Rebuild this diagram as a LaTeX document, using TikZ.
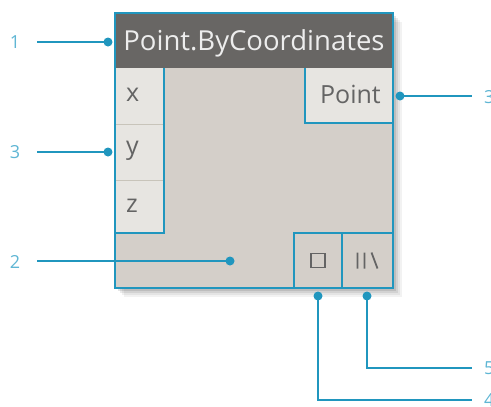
\documentclass[tikz,border=0pt]{standalone}
\usepackage{fontspec}
\setmainfont{Open Sans}
\usetikzlibrary{calc}
\definecolor{calloutblue}{RGB}{32,150,190}
\definecolor{labelblue}{RGB}{95,182,212}
\definecolor{headgray}{RGB}{104,102,100}
\definecolor{bodyfill}{RGB}{212,207,201}
\definecolor{portfill}{RGB}{231,229,225}
\definecolor{porttext}{RGB}{100,100,100}
\definecolor{rowsep}{RGB}{200,196,186}
\tikzset{
  edge/.style={calloutblue, line width=2.6pt},
  callout/.style={calloutblue, line width=2.2pt},
  dot/.style={calloutblue, fill=calloutblue},
  numlabel/.style={text=labelblue, font=\fontsize{18}{18}\selectfont, inner sep=0pt},
  porttxt/.style={text=porttext, font=\fontsize{25}{25}\selectfont, inner sep=0pt},
  box/.style={draw=none, inner sep=0pt, outer sep=0pt}
}
\begin{document}
\begin{tikzpicture}[x=1pt,y=-1pt]
\useasboundingbox (0,0) rectangle (491,407);

% soft drop shadow of the node
\foreach \s/\o in {9/0.05,7/0.06,5/0.08,3/0.10}{
  \fill[black,opacity=\o] (115+\s,13+\s) rectangle (393+\s,288+\s);
}

% node body and header
\node[box, fill=bodyfill, minimum width=278pt, minimum height=275pt, anchor=north west] (body) at (115,13) {};
\node[box, fill=headgray, minimum width=278pt, minimum height=55pt, anchor=north west] (head) at (115,13) {};
\node[text=white!93!black, font=\fontsize{27.5}{27.5}\selectfont, inner sep=0pt] (title) at (254,43) {Point.ByCoordinates};

% input ports
\node[box, fill=portfill, minimum width=49pt, minimum height=56pt, anchor=north west] (px) at (115,68) {};
\node[box, fill=portfill, minimum width=49pt, minimum height=56pt, anchor=north west] (py) at (115,124) {};
\node[box, fill=portfill, minimum width=49pt, minimum height=53pt, anchor=north west] (pz) at (115,180) {};
\draw[rowsep, line width=1pt] (px.south west) -- (px.south east);
\draw[rowsep, line width=1pt] (py.south west) -- (py.south east);
\node[porttxt, anchor=west] at ($(px.west)+(11,-1)$) {x};
\node[porttxt, anchor=west] at ($(py.west)+(11,-1)$) {y};
\node[porttxt, anchor=west] at ($(pz.west)+(11,-1)$) {z};
\draw[edge] (px.north east) -- (pz.south east) -- (pz.south west);

% output port
\node[box, fill=portfill, minimum width=88pt, minimum height=55pt, anchor=north west] (pout) at (305,68) {};
\node[porttxt, anchor=east] at ($(pout.east)+(-12,-1)$) {Point};
\draw[edge] (pout.north west) -- (pout.south west) -- (pout.south east);

% lacing and preview buttons
\node[box, minimum width=48pt, minimum height=55pt, anchor=north west] (prev) at (294,233) {};
\node[box, minimum width=51pt, minimum height=55pt, anchor=north west] (lace) at (342,233) {};
\draw[edge] (prev.south west) -- (prev.north west) -- (lace.north east);
\draw[edge] (prev.north east) -- (prev.south east);
\draw[porttext, line width=1.2pt] ($(prev.center)+(-7,-7)$) rectangle ($(prev.center)+(7,7)$);
\draw[porttext, line width=1.8pt]
  ($(lace.center)+(-10,-8)$) -- ($(lace.center)+(-10,8)$)
  ($(lace.center)+(-3,-8)$) -- ($(lace.center)+(-3,8)$)
  ($(lace.center)+(4,-8)$) -- ($(lace.center)+(10,8)$);

% node outline
\draw[edge] (body.north west) rectangle (body.south east);

% callouts
\coordinate (c1) at (108,42);
\coordinate (c3a) at (108,152);
\coordinate (c2) at (230,261);
\coordinate (c3b) at (400,96);
\coordinate (c4) at (318,296);
\coordinate (c5) at (367,296);
\coordinate (k4) at (318,400);
\coordinate (k5) at (367,368);

\node[numlabel] (n1) at (15,42) {1};
\node[numlabel] (n3a) at (15,152) {3};
\node[numlabel] (n2) at (15,262) {2};
\node[numlabel, anchor=west] (n3b) at (484,97) {3};
\node[numlabel, anchor=west] (n5) at (484,368) {5};
\node[numlabel, anchor=west] (n4) at (484,400) {4};

\draw[callout] (37,42) coordinate (e1) -- (c1);
\draw[callout] (37,152) coordinate (e3a) -- (c3a);
\draw[callout] (37,261) coordinate (e2) -- (c2);
\draw[callout] (c3b) -- (472,96) coordinate (e3b);
\draw[callout] (c4) -- (k4) -- (472,400) coordinate (e4);
\draw[callout] (c5) -- (k5) -- (472,368) coordinate (e5);

\foreach \c in {c1,c3a,c2,c3b,c4,c5}{
  \fill[dot] (\c) circle (4.5pt);
}
\end{tikzpicture}
\end{document}
